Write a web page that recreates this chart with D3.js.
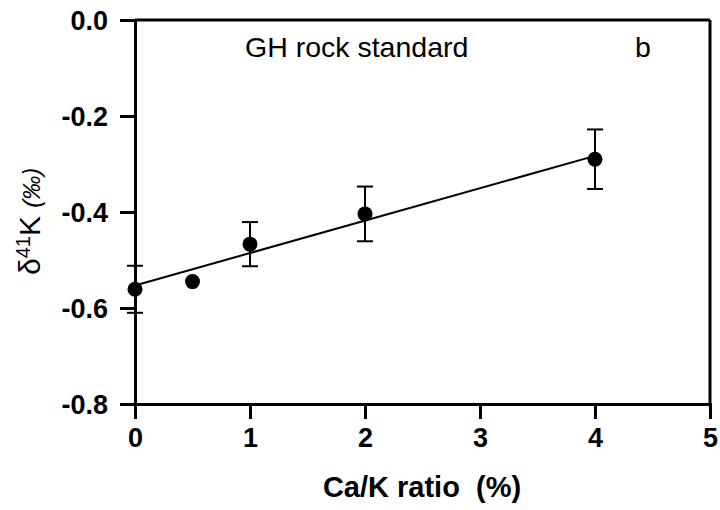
<!DOCTYPE html>
<html><head><meta charset="utf-8">
<script src="https://cdn.jsdelivr.net/npm/d3@7"></script>
<style>body{margin:0;background:#fff}svg{display:block}text{font-family:"Liberation Sans",Arial,sans-serif}</style>
</head><body>
<svg id="c" width="720" height="510"></svg>
<script>
const xVals = [0, 0.5, 1, 2, 4];
const yVals = [-0.561, -0.545, -0.467, -0.404, -0.290];
const yErr  = [0.049, 0, 0.046, 0.057, 0.062];
const fitX = [0, 4];
const fitY = [-0.553, -0.283];
const xTicks = [0, 1, 2, 3, 4, 5];
const yTicks = [0, -0.2, -0.4, -0.6, -0.8];

const svg = d3.select("#c");
const x = d3.scaleLinear().domain([0, 5]).range([135, 710]);
const y = d3.scaleLinear().domain([-0.8, 0]).range([404, 20]);
const fmt = v => d3.format(".1f")(v).replace("\u2212", "-");

// frame (top & right)
svg.append("line").attr("x1", x(0)).attr("x2", x(5)).attr("y1", y(0)).attr("y2", y(0))
  .attr("stroke", "#000").attr("stroke-width", 3);
svg.append("line").attr("x1", x(5)).attr("x2", x(5)).attr("y1", y(0)).attr("y2", y(-0.8))
  .attr("stroke", "#000").attr("stroke-width", 3);

const ax = svg.append("g").attr("transform", `translate(0,${y(-0.8)})`)
  .call(d3.axisBottom(x).tickValues(xTicks).tickSize(15).tickPadding(9).tickFormat(d3.format("d")));
const ay = svg.append("g").attr("transform", `translate(${x(0)},0)`)
  .call(d3.axisLeft(y).tickValues(yTicks).tickSize(15).tickPadding(12).tickFormat(fmt));
[ax, ay].forEach(g => {
  g.select(".domain").attr("stroke-width", 3).attr("stroke", "#000");
  g.selectAll(".tick line").attr("stroke-width", 3).attr("stroke", "#000");
  g.selectAll(".tick text").attr("fill", "#000").style("font-size", "27px").style("font-weight", "bold")
   .style("font-family", "'Liberation Sans', Arial, sans-serif");
});
ay.selectAll(".tick text").attr("dy", "0.36em");
ax.selectAll(".tick text").attr("dy", "0.71em");

// fit line
svg.append("line").attr("x1", x(fitX[0])).attr("y1", y(fitY[0]))
  .attr("x2", x(fitX[1])).attr("y2", y(fitY[1]))
  .attr("stroke", "#000").attr("stroke-width", 2);

// error bars
const pts = xVals.map((v, i) => ({x: v, y: yVals[i], e: yErr[i]}));
const eb = svg.append("g").selectAll("g").data(pts.filter(d => d.e > 0)).join("g")
  .attr("stroke", "#000").attr("stroke-width", 2);
eb.append("line").attr("x1", d => x(d.x)).attr("x2", d => x(d.x))
  .attr("y1", d => y(d.y + d.e)).attr("y2", d => y(d.y - d.e));
eb.append("line").attr("x1", d => x(d.x) - 8).attr("x2", d => x(d.x) + 8)
  .attr("y1", d => y(d.y + d.e)).attr("y2", d => y(d.y + d.e));
eb.append("line").attr("x1", d => x(d.x) - 8).attr("x2", d => x(d.x) + 8)
  .attr("y1", d => y(d.y - d.e)).attr("y2", d => y(d.y - d.e));

svg.append("g").selectAll("circle").data(pts).join("circle")
  .attr("cx", d => x(d.x)).attr("cy", d => y(d.y)).attr("r", 7.5).attr("fill", "#000");

// texts
svg.append("text").attr("x", 245).attr("y", 57).style("font-size", "28.5px").text("GH rock standard");
svg.append("text").attr("x", 635).attr("y", 57).style("font-size", "28.5px").text("b");

svg.append("text").attr("x", 422).attr("y", 497).attr("text-anchor", "middle")
  .style("font-size", "29px").style("font-weight", "bold")
  .text("Ca/K ratio\u00a0 (%)");

const yt = svg.append("text").attr("transform", "translate(40,275) rotate(-90)").style("font-size", "30px");
yt.append("tspan").text("\u03b4");
yt.append("tspan").attr("dy", -10).style("font-size", "20px").text("41");
yt.append("tspan").attr("dy", 10).text("K ");
yt.append("tspan").style("font-size", "24px").style("font-style", "italic").text("(\u2030)");
</script>
</body></html>
